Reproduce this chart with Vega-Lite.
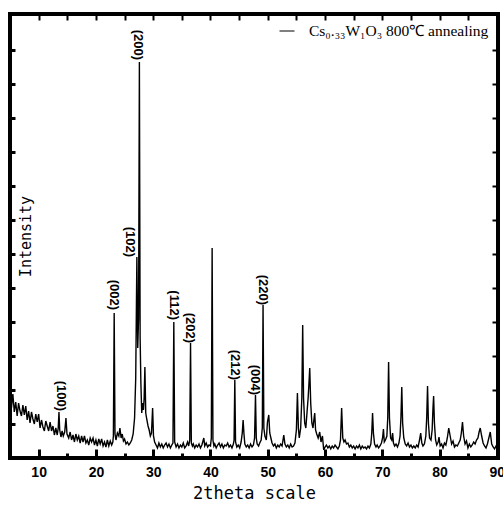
{
  "$schema": "https://vega.github.io/schema/vega-lite/v6.json",
  "width": 488,
  "height": 444,
  "autosize": {"type": "none"},
  "padding": {"left": 10, "top": 14, "right": 5, "bottom": 47},
  "background": "white",
  "config": {
    "view": {"stroke": "black", "strokeWidth": 4},
    "axis": {"domain": false, "grid": false, "tickColor": "black"}
  },
  "layer": [
    {
      "data": {"values": [
        {"t":5,"h":65},{"t":5.25,"h":50},{"t":5.5,"h":64},{"t":5.75,"h":46},{"t":6,"h":56},{"t":6.25,"h":42},{"t":6.5,"h":55},{"t":6.75,"h":47},{"t":7,"h":42},
        {"t":7.25,"h":53},{"t":7.5,"h":43},{"t":7.75,"h":52},{"t":8,"h":38},{"t":8.25,"h":47},{"t":8.5,"h":35},{"t":8.75,"h":46},{"t":9,"h":39},{"t":9.25,"h":34},{"t":9.5,"h":44},{"t":9.75,"h":36},{"t":10,"h":44},
        {"t":10.25,"h":30},{"t":10.5,"h":38},{"t":10.75,"h":31},{"t":11,"h":27},{"t":11.25,"h":37},{"t":11.5,"h":32},{"t":11.75,"h":27},{"t":12,"h":36},{"t":12.25,"h":27},{"t":12.5,"h":32},{"t":12.75,"h":23},{"t":13,"h":30},
        {"t":13.25,"h":23},{"t":13.42,"h":30},{"t":13.55,"h":46},{"t":13.68,"h":28},{"t":13.9,"h":21},{"t":14.1,"h":27},{"t":14.3,"h":22},{"t":14.55,"h":26},{"t":14.77,"h":40},{"t":14.95,"h":24},
        {"t":15.25,"h":20},{"t":15.5,"h":26},{"t":15.75,"h":18},{"t":16,"h":23},{"t":16.25,"h":16},{"t":16.5,"h":24},{"t":16.75,"h":18},{"t":17,"h":22},
        {"t":17.25,"h":15},{"t":17.5,"h":22},{"t":17.75,"h":16},{"t":18,"h":22},{"t":18.25,"h":15},{"t":18.5,"h":18},{"t":18.75,"h":13},{"t":19,"h":20},{"t":19.25,"h":16},{"t":19.5,"h":20},{"t":19.75,"h":13},{"t":20,"h":18},
        {"t":20.25,"h":12},{"t":20.5,"h":19},{"t":20.75,"h":14},{"t":21,"h":19},{"t":21.25,"h":12},{"t":21.5,"h":16},{"t":21.75,"h":11},{"t":22,"h":18},
        {"t":22.25,"h":12},{"t":22.5,"h":17},{"t":22.75,"h":13},{"t":22.95,"h":16},{"t":23.05,"h":22},{"t":23.19,"h":145},{"t":23.33,"h":24},{"t":23.5,"h":18},{"t":23.75,"h":25},{"t":24,"h":22},{"t":24.19,"h":30},{"t":24.4,"h":20},{"t":24.6,"h":24},{"t":24.8,"h":17},{"t":25,"h":19},
        {"t":25.25,"h":14},{"t":25.5,"h":16},{"t":25.75,"h":13},{"t":26,"h":15},{"t":26.25,"h":18},{"t":26.5,"h":24},{"t":26.75,"h":40},{"t":26.95,"h":80},{"t":27.15,"h":201},{"t":27.3,"h":110},{"t":27.45,"h":140},{"t":27.59,"h":396},{"t":27.72,"h":120},{"t":27.85,"h":75},
        {"t":28,"h":45},{"t":28.15,"h":55},{"t":28.3,"h":48},{"t":28.42,"h":60},{"t":28.55,"h":91},{"t":28.7,"h":45},{"t":28.9,"h":38},{"t":29.1,"h":32},{"t":29.3,"h":28},{"t":29.5,"h":22},{"t":29.7,"h":25},{"t":29.9,"h":50},{"t":30.05,"h":22},{"t":30.25,"h":16},
        {"t":30.5,"h":13},{"t":30.75,"h":10},{"t":31,"h":15},{"t":31.25,"h":11},{"t":31.5,"h":14},{"t":31.75,"h":10},{"t":32,"h":13},{"t":32.25,"h":15},{"t":32.5,"h":11},{"t":32.75,"h":14},{"t":33,"h":10},{"t":33.25,"h":13},{"t":33.45,"h":15},{"t":33.6,"h":136},{"t":33.75,"h":16},
        {"t":34,"h":11},{"t":34.25,"h":14},{"t":34.5,"h":10},{"t":34.75,"h":13},{"t":35,"h":11},{"t":35.25,"h":15},{"t":35.5,"h":10},{"t":35.75,"h":12},{"t":36,"h":16},{"t":36.2,"h":12},{"t":36.38,"h":18},{"t":36.52,"h":115},{"t":36.66,"h":15},{"t":36.85,"h":12},
        {"t":37,"h":14},{"t":37.25,"h":10},{"t":37.5,"h":13},{"t":37.75,"h":11},{"t":38,"h":14},{"t":38.25,"h":10},{"t":38.5,"h":13},{"t":38.84,"h":20},{"t":39,"h":12},{"t":39.25,"h":15},{"t":39.5,"h":11},{"t":39.75,"h":13},{"t":40,"h":12},{"t":40.15,"h":20},{"t":40.29,"h":210},{"t":40.43,"h":18},
        {"t":40.6,"h":12},{"t":40.75,"h":14},{"t":41,"h":10},{"t":41.25,"h":13},{"t":41.5,"h":15},{"t":41.75,"h":11},{"t":42,"h":14},{"t":42.25,"h":10},{"t":42.5,"h":13},{"t":42.75,"h":12},{"t":43,"h":15},{"t":43.25,"h":11},{"t":43.5,"h":13},{"t":43.75,"h":10},{"t":44,"h":14},
        {"t":44.12,"h":18},{"t":44.25,"h":78},{"t":44.38,"h":16},{"t":44.6,"h":11},{"t":44.85,"h":13},{"t":45.1,"h":10},{"t":45.35,"h":16},{"t":45.55,"h":25},{"t":45.7,"h":38},{"t":45.85,"h":24},{"t":46,"h":14},{"t":46.25,"h":11},{"t":46.5,"h":13},{"t":46.75,"h":10},
        {"t":47,"h":14},{"t":47.25,"h":11},{"t":47.5,"h":13},{"t":47.7,"h":20},{"t":47.86,"h":63},{"t":48,"h":20},{"t":48.15,"h":14},{"t":48.4,"h":12},{"t":48.6,"h":15},{"t":48.85,"h":18},{"t":49.05,"h":30},{"t":49.18,"h":153},{"t":49.32,"h":30},{"t":49.5,"h":22},{"t":49.75,"h":18},
        {"t":49.95,"h":36},{"t":50.18,"h":43},{"t":50.35,"h":25},{"t":50.55,"h":20},{"t":50.75,"h":15},{"t":51,"h":12},{"t":51.25,"h":14},{"t":51.5,"h":10},{"t":51.75,"h":13},{"t":52,"h":11},{"t":52.25,"h":14},{"t":52.5,"h":12},{"t":52.8,"h":23},{"t":53,"h":14},
        {"t":53.25,"h":11},{"t":53.5,"h":13},{"t":53.75,"h":10},{"t":54,"h":14},{"t":54.25,"h":11},{"t":54.5,"h":12},{"t":54.75,"h":15},{"t":55,"h":28},{"t":55.18,"h":65},{"t":55.35,"h":30},{"t":55.5,"h":20},{"t":55.75,"h":30},{"t":55.95,"h":60},{"t":56.1,"h":133},{"t":56.25,"h":60},
        {"t":56.45,"h":35},{"t":56.65,"h":30},{"t":56.85,"h":45},{"t":57.05,"h":60},{"t":57.2,"h":75},{"t":57.33,"h":90},{"t":57.5,"h":55},{"t":57.7,"h":35},{"t":57.9,"h":30},{"t":58.05,"h":38},{"t":58.2,"h":45},{"t":58.35,"h":28},{"t":58.55,"h":24},{"t":58.8,"h":20},
        {"t":59.07,"h":26},{"t":59.3,"h":16},{"t":59.55,"h":22},{"t":59.77,"h":8},{"t":60,"h":11},{"t":60.25,"h":13},{"t":60.5,"h":10},{"t":60.75,"h":12},{"t":61,"h":9},{"t":61.25,"h":12},{"t":61.5,"h":10},{"t":61.75,"h":13},{"t":62,"h":11},{"t":62.25,"h":9},{"t":62.5,"h":12},
        {"t":62.7,"h":18},{"t":62.9,"h":50},{"t":63.1,"h":20},{"t":63.3,"h":16},{"t":63.5,"h":18},{"t":63.75,"h":14},{"t":64,"h":15},{"t":64.25,"h":11},{"t":64.5,"h":13},{"t":64.75,"h":10},{"t":65,"h":12},{"t":65.25,"h":9},{"t":65.5,"h":12},{"t":65.75,"h":10},
        {"t":66,"h":13},{"t":66.25,"h":9},{"t":66.5,"h":12},{"t":66.75,"h":10},{"t":67,"h":11},{"t":67.25,"h":9},{"t":67.5,"h":12},{"t":67.75,"h":10},{"t":68,"h":14},{"t":68.15,"h":24},{"t":68.3,"h":45},{"t":68.45,"h":25},{"t":68.65,"h":14},{"t":68.9,"h":11},
        {"t":69.1,"h":13},{"t":69.35,"h":10},{"t":69.6,"h":12},{"t":69.85,"h":15},{"t":70.05,"h":20},{"t":70.2,"h":29},{"t":70.35,"h":16},{"t":70.55,"h":18},{"t":70.8,"h":22},{"t":70.95,"h":40},{"t":71.1,"h":96},{"t":71.25,"h":40},{"t":71.45,"h":20},{"t":71.65,"h":18},
        {"t":71.8,"h":25},{"t":71.95,"h":15},{"t":72.15,"h":12},{"t":72.4,"h":14},{"t":72.65,"h":11},{"t":72.9,"h":15},{"t":73.1,"h":22},{"t":73.25,"h":40},{"t":73.4,"h":71},{"t":73.55,"h":35},{"t":73.75,"h":20},{"t":74,"h":14},{"t":74.25,"h":12},{"t":74.5,"h":15},
        {"t":74.75,"h":11},{"t":75,"h":13},{"t":75.25,"h":10},{"t":75.5,"h":12},{"t":75.75,"h":10},{"t":76,"h":13},{"t":76.25,"h":11},{"t":76.5,"h":18},{"t":76.7,"h":25},{"t":76.9,"h":15},{"t":77.1,"h":12},{"t":77.35,"h":14},{"t":77.6,"h":22},{"t":77.75,"h":40},
        {"t":77.9,"h":72},{"t":78.05,"h":35},{"t":78.25,"h":20},{"t":78.5,"h":18},{"t":78.7,"h":28},{"t":78.85,"h":50},{"t":78.96,"h":62},{"t":79.1,"h":35},{"t":79.3,"h":18},{"t":79.5,"h":13},{"t":79.75,"h":16},{"t":79.9,"h":21},{"t":80.1,"h":12},{"t":80.35,"h":14},
        {"t":80.6,"h":10},{"t":80.85,"h":15},{"t":81.1,"h":13},{"t":81.35,"h":20},{"t":81.6,"h":30},{"t":81.85,"h":22},{"t":82.1,"h":14},{"t":82.35,"h":17},{"t":82.6,"h":11},{"t":82.85,"h":13},{"t":83.1,"h":12},{"t":83.35,"h":15},{"t":83.6,"h":18},{"t":83.8,"h":25},
        {"t":84,"h":36},{"t":84.2,"h":22},{"t":84.45,"h":14},{"t":84.7,"h":17},{"t":84.95,"h":10},{"t":85.2,"h":14},{"t":85.45,"h":11},{"t":85.7,"h":13},{"t":85.95,"h":16},{"t":86.2,"h":14},{"t":86.45,"h":18},{"t":86.7,"h":20},{"t":86.9,"h":26},{"t":87.1,"h":30},
        {"t":87.35,"h":22},{"t":87.6,"h":15},{"t":87.85,"h":12},{"t":88.1,"h":10},{"t":88.35,"h":14},{"t":88.6,"h":20},{"t":88.85,"h":26},{"t":89.1,"h":14},{"t":89.35,"h":11},{"t":89.6,"h":9},{"t":89.85,"h":12},{"t":90.1,"h":10}
      ]},
      "mark": {"type": "line", "color": "black", "strokeWidth": 1.4, "clip": true},
      "encoding": {
        "x": {
          "field": "t", "type": "quantitative",
          "scale": {"domain": [5, 90.2], "nice": false, "zero": false},
          "axis": {
            "orient": "bottom",
            "values": [10,15,20,25,30,35,40,45,50,55,60,65,70,75,80,85,90],
            "labelExpr": "datum.value % 10 === 0 ? datum.label : ''",
            "tickSize": {"condition": {"test": "datum.value % 10 === 0", "value": -9}, "value": -5},
            "tickWidth": 3,
            "labelFont": "Liberation Sans", "labelFontWeight": "bold", "labelFontSize": 14, "labelColor": "black",
            "labelPadding": 16, "labelFlush": false, "labelOverlap": false,
            "title": "2theta scale",
            "titleFont": "DejaVu Sans Mono", "titleFontSize": 17, "titleFontWeight": "normal", "titleColor": "black",
            "titleY": 35, "titleBaseline": "middle"
          }
        },
        "y": {
          "field": "h", "type": "quantitative",
          "scale": {"domain": [0, 444], "nice": false},
          "axis": {
            "orient": "left",
            "values": [34,68,102,136,170,204,238,272,306,340,374,408],
            "tickSize": -5, "tickWidth": 3,
            "labels": false,
            "title": "Intensity",
            "titleFont": "DejaVu Sans Mono", "titleFontSize": 15, "titleFontWeight": "normal", "titleColor": "black",
            "titleX": 15, "titleY": 222, "titleAngle": 270, "titleAlign": "center", "titleBaseline": "middle"
          }
        },
        "color": {
          "datum": "Cs₀.₃₃W₁O₃ 800℃ annealing",
          "scale": {"range": ["black"]},
          "legend": {
            "orient": "top-right", "offset": 9, "title": null, "padding": 0,
            "symbolType": "stroke", "symbolSize": 225, "symbolStrokeWidth": 1,
            "labelFont": "Liberation Serif", "labelFontSize": 15.5, "labelColor": "black",
            "labelOffset": 14, "labelLimit": 400
          }
        }
      }
    },
    {
      "data": {"values": [
        {"hkl": "(100)", "t": 13.95, "h": 47},
        {"hkl": "(002)", "t": 23.1, "h": 148},
        {"hkl": "(102)", "t": 26.0, "h": 201},
        {"hkl": "(200)", "t": 27.3, "h": 398},
        {"hkl": "(112)", "t": 33.65, "h": 138},
        {"hkl": "(202)", "t": 36.45, "h": 115},
        {"hkl": "(212)", "t": 44.2, "h": 78},
        {"hkl": "(004)", "t": 47.7, "h": 63},
        {"hkl": "(220)", "t": 49.25, "h": 153}
      ]},
      "mark": {"type": "text", "angle": 90, "align": "right", "baseline": "middle", "font": "Liberation Sans", "fontWeight": "bold", "fontSize": 13, "color": "black"},
      "encoding": {
        "x": {
          "field": "t", "type": "quantitative",
          "scale": {"domain": [5, 90.2], "nice": false, "zero": false},
          "axis": {"orient": "top", "values": [10,15,20,25,30,35,40,45,50,55,60,65,70,75,80,85], "labels": false, "title": null, "tickSize": -6, "tickWidth": 2}
        },
        "y": {
          "field": "h", "type": "quantitative",
          "scale": {"domain": [0, 444], "nice": false},
          "axis": {"orient": "right", "values": [34,68,102,136,170,204,238,272,306,340,374,408], "labels": false, "title": null, "tickSize": -6, "tickWidth": 2}
        },
        "text": {"field": "hkl"}
      }
    }
  ],
  "resolve": {"axis": {"x": "independent", "y": "independent"}}
}
